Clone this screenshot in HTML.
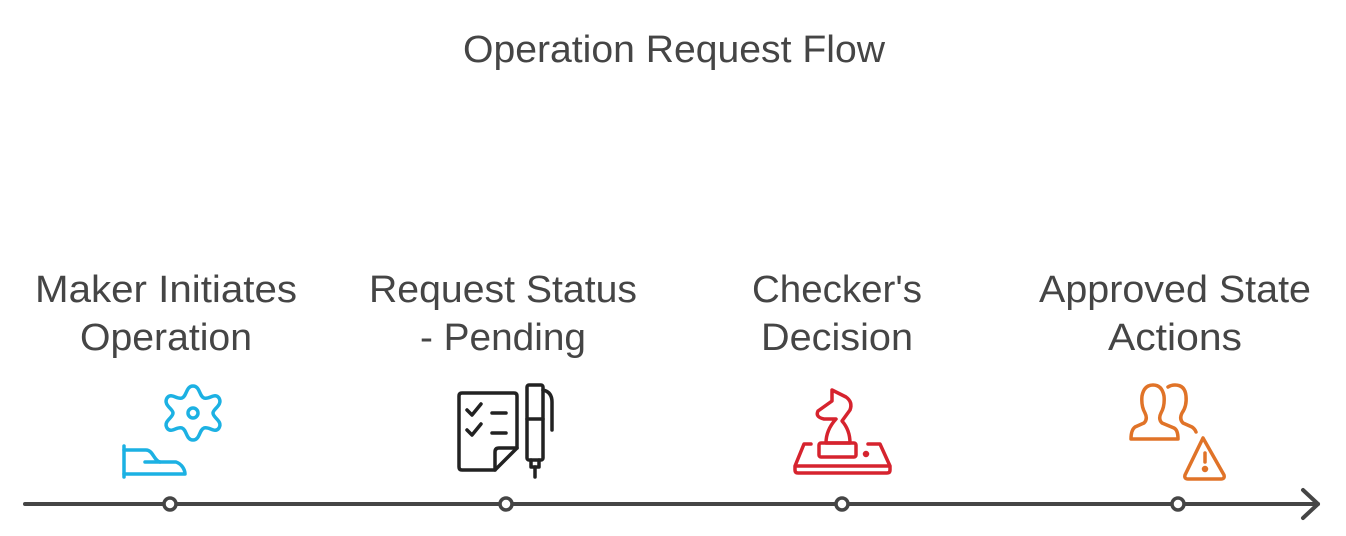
<!DOCTYPE html>
<html><head><meta charset="utf-8"><style>
html,body{margin:0;padding:0;background:#fff;}
svg{display:block}
text{font-family:"Liberation Sans",sans-serif;fill:#454545;font-size:38px;text-anchor:middle}
</style></head><body>
<svg width="1346" height="536" viewBox="0 0 1346 536" xmlns="http://www.w3.org/2000/svg">
<text x="674" y="62" textLength="422" lengthAdjust="spacingAndGlyphs">Operation Request Flow</text>
<text x="166" y="302" textLength="262" lengthAdjust="spacingAndGlyphs">Maker Initiates</text>
<text x="166" y="350" textLength="172" lengthAdjust="spacingAndGlyphs">Operation</text>
<text x="503" y="302" textLength="268" lengthAdjust="spacingAndGlyphs">Request Status</text>
<text x="503" y="350" textLength="166" lengthAdjust="spacingAndGlyphs">- Pending</text>
<text x="837" y="302" textLength="170" lengthAdjust="spacingAndGlyphs">Checker's</text>
<text x="837" y="350" textLength="152" lengthAdjust="spacingAndGlyphs">Decision</text>
<text x="1175" y="302" textLength="272" lengthAdjust="spacingAndGlyphs">Approved State</text>
<text x="1175" y="350" textLength="134" lengthAdjust="spacingAndGlyphs">Actions</text>

<g stroke="#454545" stroke-width="4" fill="none" stroke-linecap="round" stroke-linejoin="round">
<line x1="25" y1="504" x2="1318" y2="504"/>
<polyline points="1303,490 1318,504 1303,518"/>
</g>
<g stroke="#454545" stroke-width="3.5" fill="#fff">
<circle cx="170" cy="504" r="6"/><circle cx="506" cy="504" r="6"/>
<circle cx="842" cy="504" r="6"/><circle cx="1178" cy="504" r="6"/>
</g>

<!-- gear + hand -->
<g stroke="#1cb1e3" stroke-width="3.5" fill="none" stroke-linecap="round" stroke-linejoin="round">
<path d="M193,386 C200,386 199,396 204,398 C209,400 215,392 219,398 C223,405 213,409 213,413 C213,418 223,421 219,428 C215,434 209,426 204,428 C199,430 200,440 193,440 C186,440 187,430 182,428 C177,426 171,434 167,428 C163,421 173,418 173,413 C173,409 163,405 167,398 C171,392 177,400 182,398 C187,396 186,386 193,386Z"/>
<circle cx="193" cy="413" r="5"/>
<path d="M124,446 V477"/>
<path d="M124,450 H146 C153,450 154,461 160,462 H176 C182,464 185,470 185,474 H124"/>
<path d="M145,462 H160"/>
</g>

<!-- document + pen -->
<g stroke="#222" stroke-width="3.5" fill="none" stroke-linecap="round" stroke-linejoin="round">
<path d="M517,448 V396 Q517,393 514,393 H462 Q459,393 459,396 V467 Q459,470 462,470 H495 L517,448"/>
<path d="M495,470 V452 Q495,448 499,448 H517"/>
<polyline points="467,410 472,415 481,404"/><line x1="492" y1="413" x2="506" y2="413"/>
<polyline points="467,430 472,435 481,424"/><line x1="492" y1="433" x2="506" y2="433"/>
<rect x="527" y="385" width="16" height="75" rx="2"/>
<line x1="527" y1="419" x2="543" y2="419"/>
<path d="M543,390 Q552,392 552,402 V430"/>
<path d="M531,460 V467 H539 V460"/><line x1="535" y1="467" x2="535" y2="477"/>
</g>

<!-- chess -->
<g stroke="#d6232e" stroke-width="3.5" fill="none" stroke-linecap="round" stroke-linejoin="round">
<path d="M832,390 L846,397 Q853,402 850,410 L842,421 Q850,430 850,443 H826 Q826,430 836,419 L824,419 Q815,417 818,411 L832,401 Z"/>
<rect x="819" y="443" width="37" height="14" rx="2"/>
<path d="M811,444 H804 L795,466 V470 Q795,473 798,473 H887 Q890,473 890,470 V466 L880,444 H868"/>
<line x1="796" y1="466" x2="889" y2="466"/>
<circle cx="866" cy="454" r="1.5" fill="#d6232e"/>
</g>

<!-- users + warning -->
<g stroke="#e07328" stroke-width="3.5" fill="none" stroke-linecap="round" stroke-linejoin="round">
<path d="M1131,439 H1178 Q1178,430 1174,428 L1162,423 Q1158,419 1161,413 Q1165,406 1164,396 Q1162,385 1153,385 Q1144,385 1142,396 Q1141,406 1145,413 Q1148,419 1144,423 L1135,427 Q1131,430 1131,439 Z"/>
<path d="M1168,387 Q1171,385 1175,385 Q1185,385 1186,396 Q1187,406 1182,413 Q1179,419 1183,423 L1192,427 Q1195,429 1196,432"/>
<path d="M1203,438 L1224,475 Q1225,479 1221,479 H1188 Q1184,479 1185,475 Z"/>
<line x1="1205" y1="453" x2="1205" y2="462"/>
<circle cx="1205" cy="469" r="1.5" fill="#e07328"/>
</g>
</svg>
</body></html>
